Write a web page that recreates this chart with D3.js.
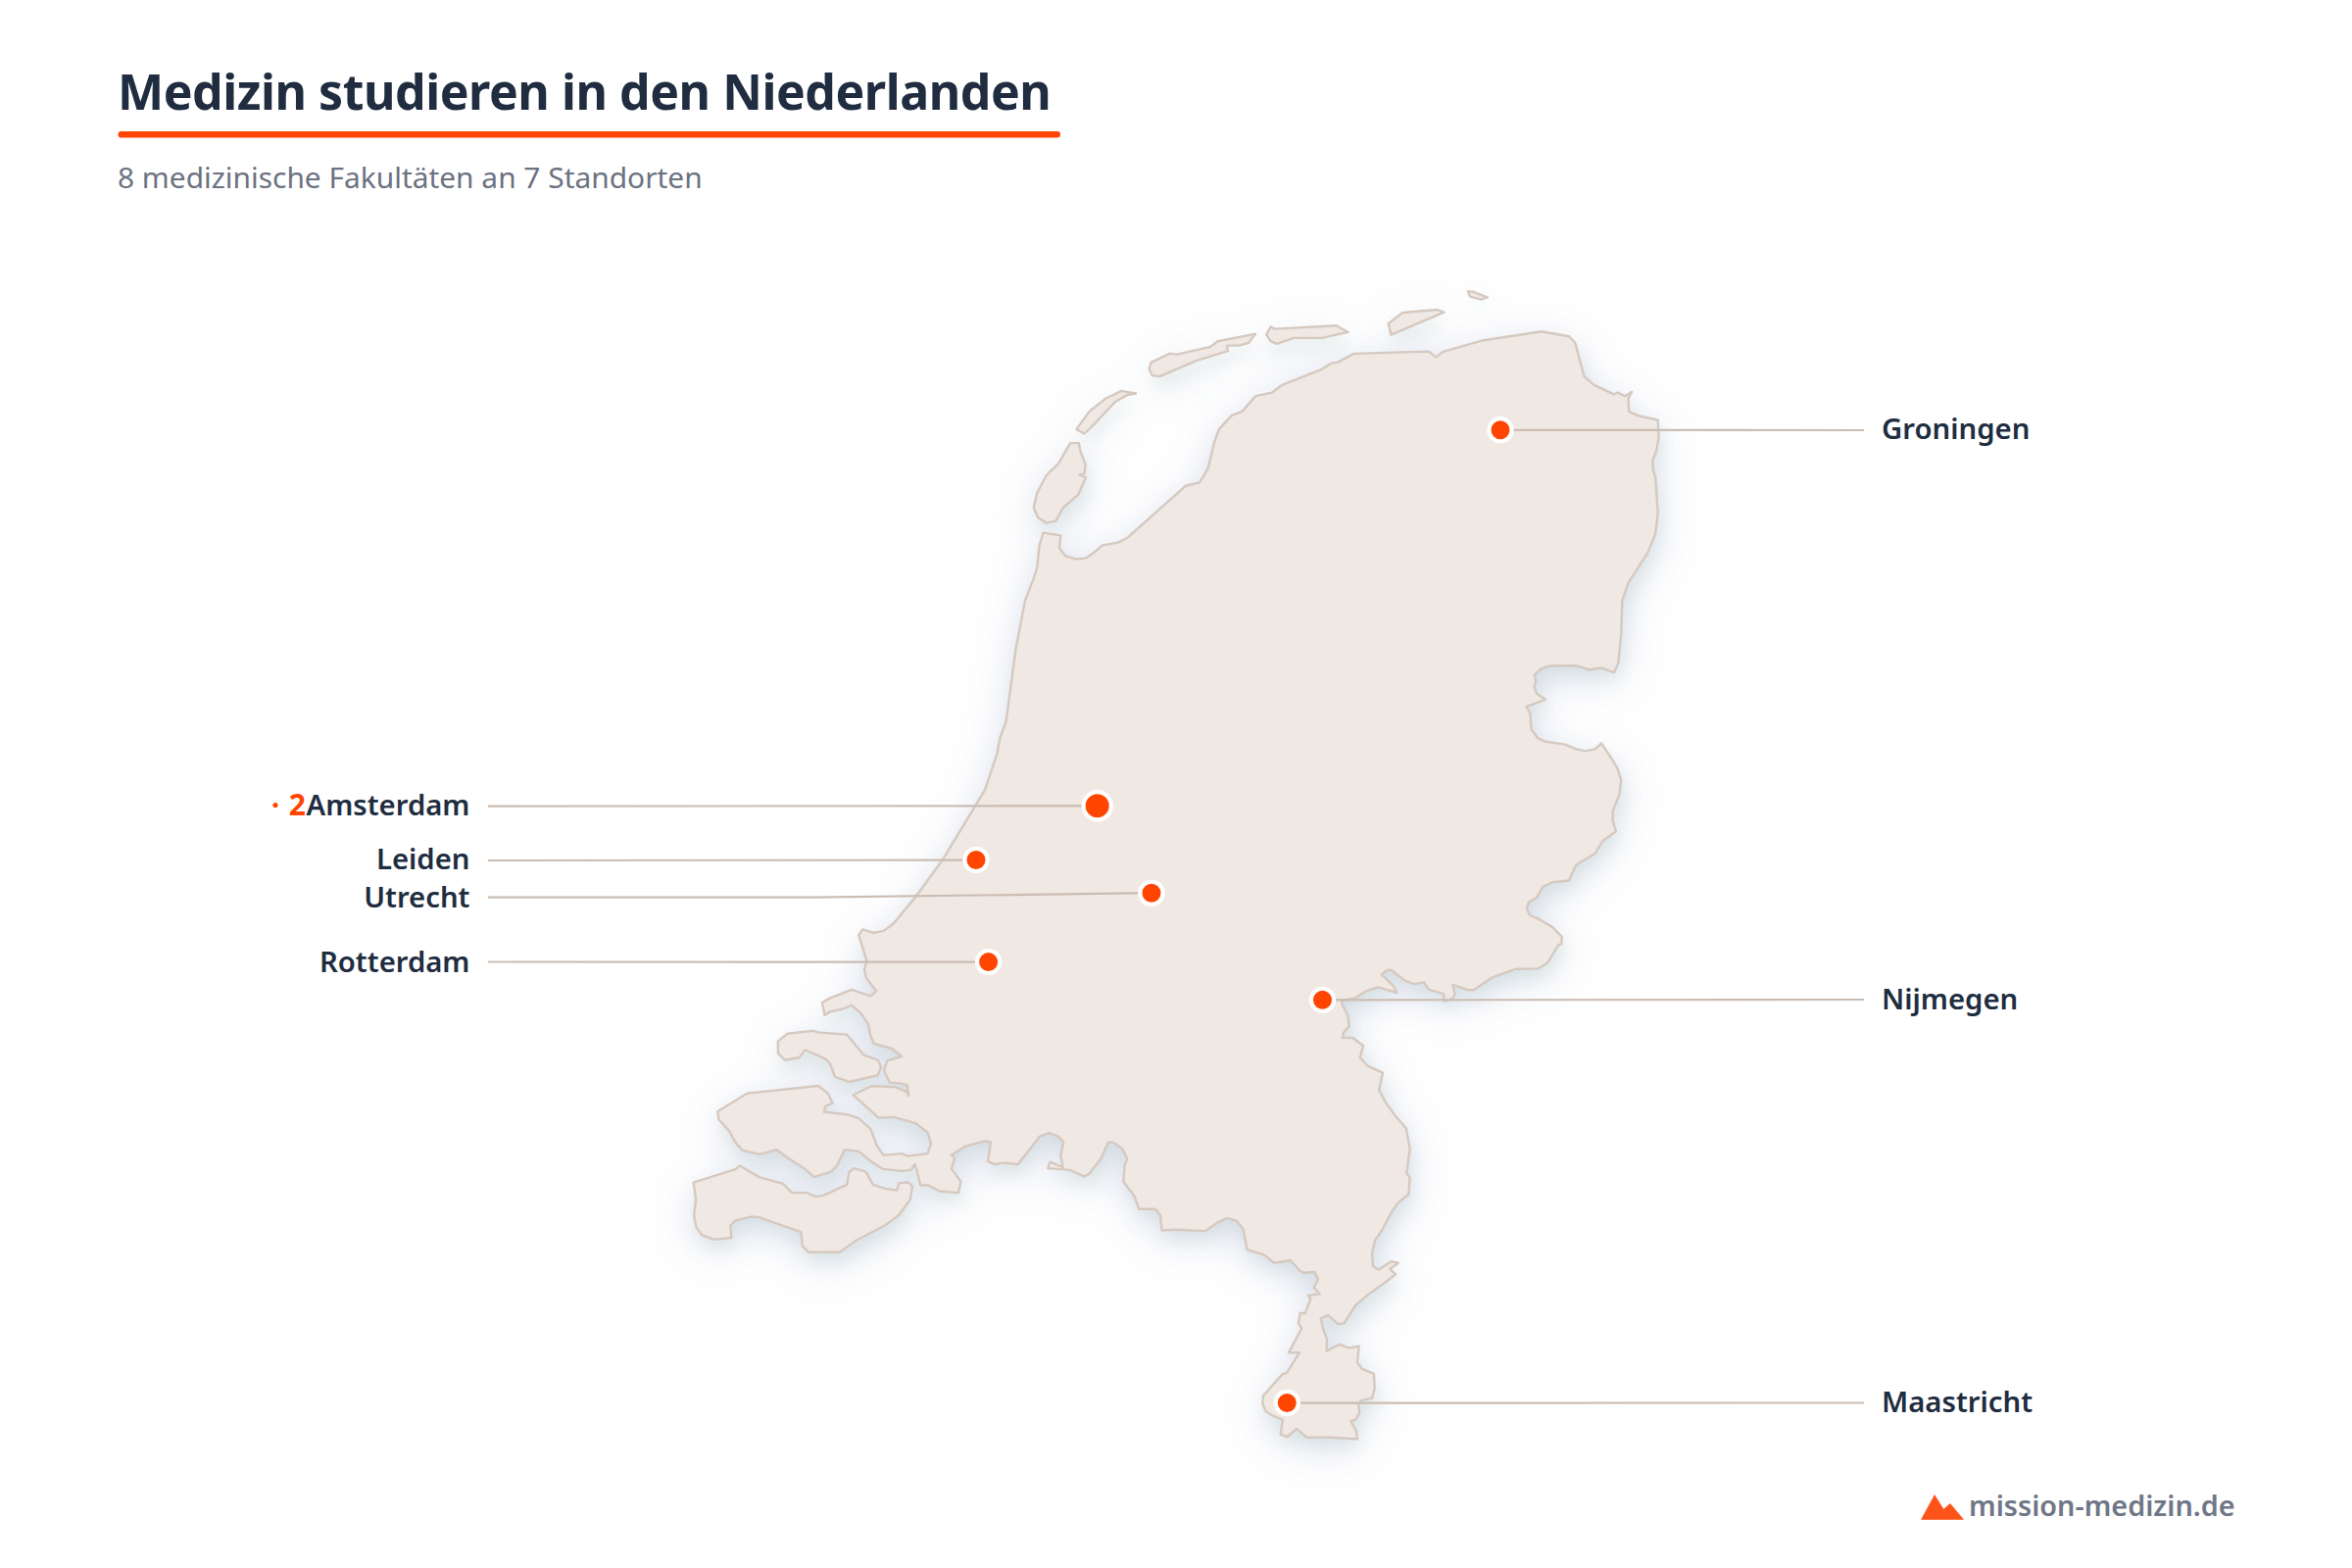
<!DOCTYPE html>
<html lang="de">
<head>
<meta charset="utf-8">
<title>Medizin studieren in den Niederlanden</title>
<script src="https://d3js.org/d3.v7.min.js"></script>
<style>
html,body{margin:0;padding:0;background:#fff}
svg{display:block}
text{font-family:"Noto Sans","Open Sans",sans-serif}
</style>
</head>
<body>
<svg id="chart" width="2400" height="1600"></svg>
<script>
// ---- text
const titleText = "Medizin studieren in den Niederlanden";
const subtitleText = "8 medizinische Fakultäten an 7 Standorten";
const brandText = "mission-medizin.de";

// ---- cities (map units) and number of faculties
const cities = ["Amsterdam","Leiden","Utrecht","Rotterdam","Groningen","Nijmegen","Maastricht"];
const cityEast = [419.7,296,475,308.6,831,649.5,613.3];
const citySouth = [543,598.3,632,702.5,159,741.3,1153];
const faculties = [2,1,1,1,1,1,1];

// ---- coast outlines (map units: east, south)
const mainland = [
[364.5,264],[382.4,266.7],[381,279.3],[387.2,287.7],[398.4,291],[407.6,290],[416.3,284],[425,276.7],[440.6,274],[450.3,269.3],
[509.9,216],[523.9,212.7],[527.8,206.7],[532.7,198.3],[539,171.7],[543.8,158.3],[556.9,144],[567.6,140],[581.1,124.3],[598.1,120.7],
[608.8,112.7],[648,97.3],[658.7,90.7],[664.5,90],[681.5,81],[758,78.7],[765.3,84.7],[772.6,79],[813.8,67.3],[872.9,58.3],
[901,63.3],[907.3,70],[916.5,104.3],[926.2,112.7],[947.1,122.7],[950.5,120.7],[958.2,124.3],[965,120],[961.6,126.7],[962.1,140],
[971.3,144.3],[991.7,148.7],[992.6,166.7],[990.2,180],[986.4,190],[986.8,200],[989.2,206.7],[991.7,243.3],[989.2,265],[981,285],
[961.6,315],[955.3,333.3],[954.3,366.7],[951.4,396.7],[947.1,406.7],[934,402],[921.9,404],[908.3,399.7],[881.6,400],[871.9,403.3],
[865.6,409.3],[867.1,415],[865.6,421.7],[868.1,428.3],[876.8,434.3],[864.7,439],[857.4,441.7],[861.3,448.3],[862.7,465],[869.5,474],
[876.8,477.3],[896.2,480],[908.3,485],[918,487],[927.7,485],[934,479],[944.7,495],[950.5,505],[954.3,516.7],[952.4,531.7],
[945.6,548.3],[945.6,558.3],[949,569],[935,579.3],[927.7,591.7],[920.4,596],[908.3,603.3],[901,619.3],[884,621],[874.4,625.7],
[868.1,636.7],[859.8,641.7],[857.9,648.3],[861.3,655],[869.5,658.3],[884,666.7],[893.8,676.7],[893.3,684],[890.4,685],[879.2,703.3],
[869.5,709.3],[846.7,709.7],[822.5,718.3],[804.1,731],[797.8,731],[782.3,725.7],[784.7,735],[782.3,740],[774,742.7],[773.1,735],
[758,730.7],[753.2,723.3],[743.5,725],[733.8,721.7],[719.3,710.7],[715.9,710.7],[709.6,715.3],[721.7,726.7],[725.6,734],[706.2,728.3],
[695,731.7],[682.9,739.3],[669.3,741.7],[669.3,745],[675.6,758.3],[676.6,768.3],[670.8,775],[669.8,780],[680.5,780],[691.1,788.3],
[687.8,800],[695,808.3],[711,815.7],[707.1,833.3],[714.4,846.7],[724.1,860],[734.8,872.3],[738.7,893.3],[735.3,918.3],[738.7,922.7],
[737.3,940],[726.7,948.3],[720,958.3],[710,976.7],[703.3,986.7],[700,1000],[701,1013.3],[706.7,1016.7],[720,1008.3],[726.7,1010],
[718.3,1016],[724,1021.7],[713.3,1030],[696.7,1041.7],[683.3,1053.3],[676.7,1063.3],[671.7,1071.7],[665,1072.3],[655,1063.3],[647.7,1066.7],
[650,1076.7],[654,1088.3],[653.7,1100],[666.7,1093.3],[676.7,1096.7],[686.7,1095],[685,1111.7],[690,1118.3],[702,1123.3],[702.7,1138.3],
[700,1148.3],[690,1150],[686,1153.3],[687.3,1163.3],[683.3,1170],[678.3,1171.7],[684,1181.7],[685,1190],[656.7,1188.3],[633.3,1188.3],
[623.3,1179.3],[613.3,1187.7],[606.7,1185],[609,1170],[600,1166.7],[591.7,1161.7],[588.3,1153.3],[589,1145.7],[608.3,1124],[613.3,1121.7],
[626,1101.7],[615,1101.7],[628.3,1076.7],[625,1071.7],[626.7,1061],[631.7,1061.7],[637.3,1046.7],[635,1043.3],[646.7,1041.7],[640.7,1035],
[645,1026.7],[641.7,1019.3],[630,1020],[626.7,1018.3],[616.7,1007.3],[600,1010],[590,1001.7],[572.7,996.7],[568.3,975],[561.7,966.7],
[551.7,964.3],[543.3,968.3],[530,977.3],[500,976],[485.5,976.7],[484.1,961.7],[479.2,955],[462.3,955],[457.4,941.7],[446.3,926.7],
[447.7,910],[450.2,903.3],[445.3,893.3],[435.6,886.7],[430.8,886.7],[423.5,903.3],[411.4,919],[406.5,921.7],[392,915],[369.2,913.3],
[371.6,906.7],[384.7,912.3],[382.3,900],[385.2,886.7],[379.9,880.7],[370.2,877.3],[360.5,881],[338.7,909.3],[324.1,907.7],[314.4,909.3],
[308.1,906],[311,886.7],[305.7,885.3],[285.4,890.7],[270.8,900],[274.2,902.7],[270.8,914],[280.5,926.7],[278.1,938.3],[258.7,936.7],
[247.6,930.7],[239.3,930.7],[235.9,916.7],[233.5,909.3],[229.6,915],[219.9,916],[200.5,914],[189.4,906.7],[176.3,896],[161.8,894.3],
[154.5,910],[148.2,916.7],[130.3,922.3],[120.6,913.3],[105,903.3],[92.5,894.3],[75.5,899],[57.6,895],[50.3,886.7],[44,875],
[33.3,863.3],[32.3,855],[62.4,836.7],[135.1,829],[144.8,836.7],[149.6,846.7],[142.4,850],[140.9,855.7],[164.2,858.3],[176.3,862.3],
[188.4,873.3],[194.7,890],[201.5,900],[219.9,898.3],[226.2,900.7],[246.6,898.3],[250,888.3],[246.6,876.7],[234.5,867.3],[211.7,861],
[196.7,861.7],[170.5,838.3],[189.4,829.3],[212.7,830],[224.8,835],[227.2,839.3],[225.7,828.3],[219.9,826.7],[207.8,825.7],[202,813.3],
[205.4,803.3],[219.9,799],[210.2,791],[191.8,786],[188.4,778.3],[186,766],[178.7,755],[169,746.7],[159.3,750.7],[147.2,753.3],
[141.4,756.7],[139,744],[147.2,739.3],[169,730.7],[181.2,735],[188.4,737.3],[194.2,732.3],[183.6,718.3],[182.1,710],[184.5,701.7],
[176.3,675],[180.2,669.3],[191.7,672.7],[201.7,670.7],[211.7,663.3],[235,635],[261.7,598.3],[295,543.3],[305,526.7],[317.4,490],
[320.4,473.3],[326.7,456.7],[331.5,420],[336.4,383.3],[346,333.3],[354.3,311.7],[358.2,300],[360.6,276.7]
];
const schouwen = [[93.9,783.3],[103.6,775.7],[130.3,772.7],[134.1,774.3],[164.2,776.7],[181.2,797.3],[195.7,802.7],[199.1,810],[195.7,818.3],[166.6,825],[152.1,820],[147.2,806.7],[142.4,801.7],[127.8,795],[121.5,792.3],[115.7,800],[101.2,802.7],[93.9,796]];
const walcheren = [[7.6,927.7],[50.3,914.3],[55.1,910.7],[74.5,922.3],[98.8,929],[108.4,938.3],[123,938.3],[132.7,942.3],[140,941],[164.2,930],[166.6,916.7],[171.5,913.3],[183.6,916.7],[190.8,930],[203,934],[215.1,935.7],[217.5,928.3],[227.2,927.7],[231.1,931.7],[228.7,945],[217.5,961],[203,971.7],[173.9,986.7],[156.9,999],[125.4,999],[119.1,993.3],[117.2,978.3],[74.5,963.3],[67.2,962.7],[50.3,966.7],[45.4,971.7],[46.4,984.3],[28.5,986],[16.4,981.7],[10.5,973.3],[8.1,961.7],[10.1,945]];
const texel = [[392.1,172.3],[400.8,172.3],[402.8,181.7],[407.6,194],[406.6,203.3],[401.8,205],[408.1,207.3],[400.3,225],[384.8,238.3],[377.6,251.7],[367.9,254],[359.1,248.3],[354.8,238.3],[358.2,223.3],[367.9,205],[380,193.3]];
const vlieland = [[444.4,119],[459,121.7],[450.3,123.3],[438.1,130],[416.3,153.3],[406.6,162.7],[398.4,158.3],[411.5,140],[428.4,126.7]];
const terschelling = [[472.6,96.7],[474.5,90],[493.9,80.7],[501.2,81.7],[535.1,74],[542.4,68.3],[581.1,60.7],[573.9,70],[564.2,72.7],[552,72.7],[553,78.3],[547.2,80],[520.5,88.3],[483.2,104.3],[475.9,103.3]];
const ameland = [[592.3,61.7],[596.6,53.3],[600.5,55.7],[663.5,52.3],[675.6,59],[649,65],[619.9,65],[602.9,71],[596.6,68.3]];
const schiermonnikoog = [[716.8,50],[731.4,39],[766.3,36],[773.6,38.7],[719.3,61.7]];
const rottumeroog = [[797.8,17.3],[803.1,17.7],[817.7,23.3],[811.4,25.7],[800.2,22.7]];
const landParts = [mainland,schouwen,walcheren,texel,vlieland,terschelling,ameland,schiermonnikoog,rottumeroog];

// ---- drawing
const svg = d3.select("#chart");
const x = d3.scaleLinear().domain([0,1000]).range([700,1700]);
const y = d3.scaleLinear().domain([0,1200]).range([280,1478.5]);
const outline = d3.line().x(d=>x(d[0])).y(d=>y(d[1])).curve(d3.curveLinearClosed);

const defs = svg.append("defs");
const f = defs.append("filter").attr("id","soft").attr("x","-20%").attr("y","-20%").attr("width","140%").attr("height","140%");
f.append("feDropShadow").attr("dx",0).attr("dy",10).attr("stdDeviation",22).attr("flood-color","#7d88b8").attr("flood-opacity",0.28);
const g = defs.append("filter").attr("id","tight").attr("x","-20%").attr("y","-20%").attr("width","140%").attr("height","140%");
g.append("feDropShadow").attr("dx",3).attr("dy",11).attr("stdDeviation",8).attr("flood-color","#bcd2ca").attr("flood-opacity",0.3);

const ORANGE = "#ff4500", INK = "#202d40", GREY = "#6b7280";

svg.append("text").attr("x",120).attr("y",112).attr("font-size",50).attr("font-weight",700).attr("letter-spacing",-0.45).attr("fill",INK).text(titleText);
svg.append("rect").attr("x",120.5).attr("y",134).attr("width",961.5).attr("height",6.5).attr("rx",3.25).attr("fill",ORANGE);
svg.append("text").attr("x",120).attr("y",191.5).attr("font-size",29.9).attr("fill",GREY).text(subtitleText);

const land = svg.append("g");
["soft","tight"].forEach(id=>{
  land.append("g").attr("filter",`url(#${id})`).selectAll("path").data(landParts).join("path")
    .attr("d",outline).attr("fill","#f0e8e3");
});
land.append("g").selectAll("path").data(landParts).join("path")
  .attr("d",outline).attr("fill","#f0e8e3").attr("stroke","#d5c9c0").attr("stroke-width",2.4).attr("stroke-linejoin","round");

// label layout, keyed by city
const layout = {
  Amsterdam:{side:"left",base:832.2,line:822.6},
  Leiden:{side:"left",base:887.3,line:878},
  Utrecht:{side:"left",base:926,line:915.7,elbow:830},
  Rotterdam:{side:"left",base:991.8,line:981.5},
  Groningen:{side:"right",base:448.3,line:439},
  Nijmegen:{side:"right",base:1030,line:1020},
  Maastricht:{side:"right",base:1441,line:1431.5}
};
const rows = cities.map((name,i)=>({name,east:cityEast[i],south:citySouth[i],n:faculties[i],...layout[name]}));
const lead = d3.line();
svg.append("g").selectAll("path").data(rows).join("path")
  .attr("d",d=>{
    const sx = d.side==="left"?498:1902;
    const pts=[[sx,d.line]];
    if(d.elbow) pts.push([d.elbow,d.line]);
    pts.push([x(d.east),y(d.south)]);
    return lead(pts);
  }).attr("fill","none").attr("stroke","#cabdb3").attr("stroke-width",2.2);

const r = d3.scaleOrdinal().domain([1,2]).range([9.5,12]);
svg.append("g").selectAll("circle").data(rows).join("circle")
  .attr("cx",d=>x(d.east)).attr("cy",d=>y(d.south)).attr("r",d=>r(d.n)+2.1)
  .attr("fill",ORANGE).attr("stroke","#fff").attr("stroke-width",4.2);

svg.append("g").selectAll("text").data(rows).join("text")
  .attr("x",d=>d.side==="left"?479.5:1920).attr("y",d=>d.base)
  .attr("text-anchor",d=>d.side==="left"?"end":"start")
  .attr("font-size",29.3).attr("font-weight",560).attr("fill",INK).text(d=>d.name);

const multi = rows.filter(d=>d.n>1);
svg.append("g").selectAll("text").data(multi).join("text")
  .attr("x",312).attr("y",d=>d.base).attr("text-anchor","end")
  .attr("font-size",30).attr("font-weight",700).attr("fill",ORANGE).text(d=>d.n);
svg.append("g").selectAll("circle").data(multi).join("circle")
  .attr("cx",281).attr("cy",d=>d.line-1).attr("r",2.6).attr("fill",ORANGE);

// brand
svg.append("path").attr("d",d3.line()([[1960,1550.7],[1974,1525],[1983.3,1539.7],[1990,1534],[2004,1550.7]])+"Z").attr("fill","#ff5419");
svg.append("text").attr("x",2009).attr("y",1546.5).attr("font-size",28.8).attr("font-weight",600).attr("fill","#6f7787").text(brandText);
</script>
</body>
</html>
